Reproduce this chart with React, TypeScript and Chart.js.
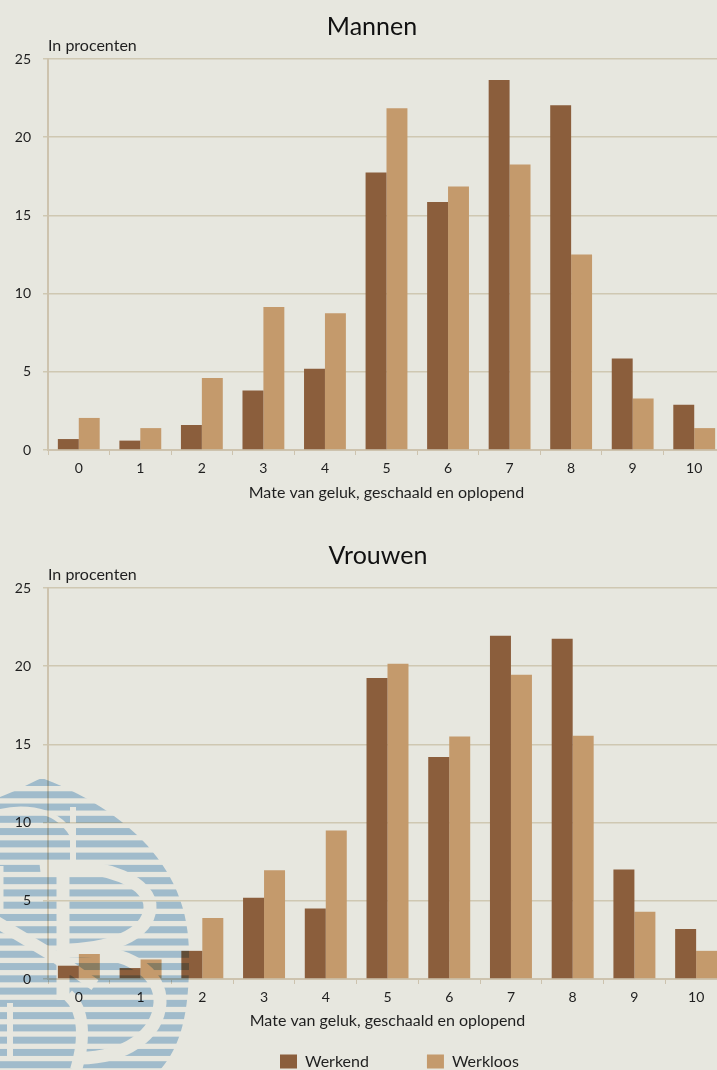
import React, { useEffect, useRef } from "react";
import { Chart, registerables } from "chart.js";

Chart.register(...registerables);

const categories = ["0", "1", "2", "3", "4", "5", "6", "7", "8", "9", "10"];
const mannenWerkend = [0.7, 0.6, 1.6, 3.8, 5.2, 17.75, 15.85, 23.65, 22.05, 5.85, 2.9];
const mannenWerkloos = [2.05, 1.4, 4.6, 9.15, 8.75, 21.85, 16.85, 18.25, 12.5, 3.3, 1.4];
const vrouwenWerkend = [0.85, 0.7, 1.8, 5.2, 4.5, 19.25, 14.2, 21.95, 21.75, 7.0, 3.2];
const vrouwenWerkloos = [1.6, 1.25, 3.9, 6.95, 9.5, 20.15, 15.5, 19.45, 15.55, 4.3, 1.8];

const FONT = "Lato, sans-serif";
const INK = "#1f1f1f";
const GRID = "#cfc8b2";
const AXIS = "#cdc3ae";
const DARK = "#8b5e3c";
const LIGHT = "#c49a6c";
const BG = "#e7e7df";
const stripeRows = Array.from({ length: 25 }, (_, i) => i);

function makeChart(
  canvas: HTMLCanvasElement,
  title: string,
  titleShift: number,
  werkend: number[],
  werkloos: number[],
  plotRightPad: number,
  showLegend: boolean
) {
  const unitPlugin = {
    id: "unitLabel",
    afterDraw(chart: any) {
      const { ctx, chartArea } = chart;
      ctx.save();
      ctx.font = `16px ${FONT}`;
      ctx.fillStyle = INK;
      ctx.textAlign = "left";
      ctx.textBaseline = "middle";
      ctx.fillText("In procenten", chartArea.left, chartArea.top - 13);
      ctx.restore();
    },
  };
  const placement = {
    id: "placement",
    beforeLayout(chart: any) {
      const l = chart.legend;
      if (l && showLegend && !l.__wrapped) {
        const fit = l.fit;
        l.fit = function () {
          fit.call(this);
          this.height = 1;
        };
        l.__wrapped = true;
      }
    },
    afterUpdate(chart: any) {
      const t = chart.titleBlock;
      if (t) {
        t.left += titleShift;
        t.right += titleShift;
      }
      const l = chart.legend;
      if (l && showLegend) {
        l.left = 280 - 58;
        l.right = 740;
        l.top = 466.4;
        l.bottom = 541;
      }
    },
  };
  return new Chart(canvas, {
    type: "bar",
    data: {
      labels: categories,
      datasets: [
        { label: "Werkend", data: werkend, backgroundColor: DARK, categoryPercentage: 0.68, barPercentage: 1 },
        { label: "Werkloos", data: werkloos, backgroundColor: LIGHT, categoryPercentage: 0.68, barPercentage: 1 },
      ],
    },
    plugins: [unitPlugin, placement],
    options: {
      animation: false,
      responsive: false,
      devicePixelRatio: 1,
      layout: { padding: { left: 0, right: plotRightPad, top: 0, bottom: 0 } },
      plugins: {
        tooltip: { enabled: false },
        title: {
          display: true,
          text: title,
          color: "#111",
          font: { family: FONT, size: 25, weight: "normal", lineHeight: 1.2 },
          padding: { top: 11.5, bottom: 17.5 },
        },
        legend: {
          display: showLegend,
          position: "bottom",
          align: "start",
          labels: {
            boxWidth: 17,
            boxHeight: 14,
            padding: 58,
            color: INK,
            font: { family: FONT, size: 16 },
          },
        },
      },
      scales: {
        x: {
          afterFit(s: any) { s.height = showLegend ? 90 : 70; },
          grid: { drawOnChartArea: false, color: AXIS, tickLength: 5, lineWidth: 1 },
          border: { color: AXIS, width: 2 },
          ticks: { color: INK, font: { family: FONT, size: 14 }, padding: 5, maxRotation: 0 },
          title: {
            display: true,
            text: "Mate van geluk, geschaald en oplopend",
            color: INK,
            font: { family: FONT, size: 16 },
            padding: { top: 4, bottom: showLegend ? 39 : 18 },
          },
        },
        y: {
          min: 0,
          max: 25,
          afterFit(s: any) { s.width = 48; },
          grid: { color: GRID, tickLength: 5, lineWidth: 1.5 },
          border: { color: AXIS, width: 2 },
          ticks: { color: INK, font: { family: FONT, size: 14 }, padding: 12, stepSize: 5 },
        },
      },
    } as any,
  });
}

function Watermark() {
  const shape =
    "M42 778 C 100 800 188 850 189 950 C 190 1010 182 1045 160 1070 L -10 1070 L -10 800 C 10 795 25 785 42 778 Z";
  return (
    <svg
      width={717}
      height={1070}
      style={{ position: "absolute", left: 0, top: 0, mixBlendMode: "multiply", pointerEvents: "none" }}
    >
      <defs>
        <clipPath id="leaf">
          <path d={shape} />
        </clipPath>
        <mask id="cuts" maskUnits="userSpaceOnUse" x="-10" y="770" width="230" height="300">
          <rect x="-10" y="770" width="230" height="300" fill="#fff" />
          <g fill="none" stroke="#000" strokeWidth="13">
            <path d="M40 868 C 110 860 152 885 150 908 C 148 935 110 950 60 950" />
            <path d="M60 952 C 130 945 162 975 160 1003 C 158 1035 125 1058 80 1058" />
            <path d="M73 807 L73 860" strokeWidth="6" />
            <path d="M63 868 L63 1000" />
            <path d="M68 995 C 85 1010 85 1040 76 1070" strokeWidth="12" />
            <path d="M-10 918 L57 958 L95 985" strokeWidth="12" />
            <path d="M-10 815 C 15 805 55 805 72 835" strokeWidth="5" />
            <path d="M1 866 L1 910" strokeWidth="5" />
            <path d="M10 1003 L10 1057" strokeWidth="6" />
          </g>
        </mask>
      </defs>
      <g clipPath="url(#leaf)">
        <g mask="url(#cuts)">
          {stripeRows.map((i) => (
            <rect key={i} x={-10} y={779 + i * 12.27} width={230} height={7} fill="#b1cfe8" />
          ))}
        </g>
      </g>
    </svg>
  );
}

export default function App() {
  const topRef = useRef<HTMLCanvasElement>(null);
  const bottomRef = useRef<HTMLCanvasElement>(null);
  useEffect(() => {
    document.body.style.margin = "0";
    document.body.style.background = BG;
    const a = makeChart(topRef.current!, "Mannen", 9.5, mannenWerkend, mannenWerkloos, 19, false);
    const b = makeChart(bottomRef.current!, "Vrouwen", 14.5, vrouwenWerkend, vrouwenWerkloos, 29, true);
    return () => {
      a.destroy();
      b.destroy();
    };
  }, []);
  return (
    <div style={{ position: "relative", width: 717, height: 1070, overflow: "hidden", background: BG }}>
      <canvas ref={topRef} width={744} height={520} style={{ position: "absolute", left: 0, top: 0, width: 744, height: 520 }} />
      <canvas ref={bottomRef} width={756} height={541} style={{ position: "absolute", left: 0, top: 529, width: 756, height: 541 }} />
      <Watermark />
    </div>
  );
}
